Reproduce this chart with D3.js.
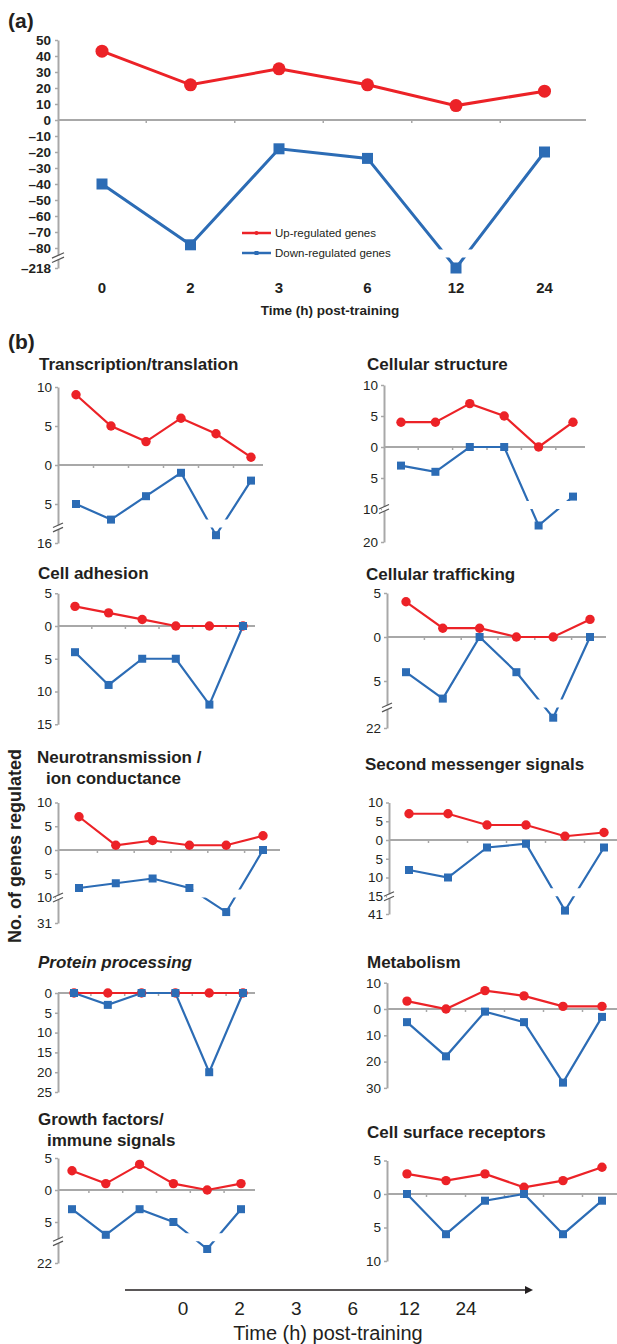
<!DOCTYPE html>
<html>
<head>
<meta charset="utf-8">
<script src="https://cdn.jsdelivr.net/npm/d3@7"></script>
<style>
  body { margin: 0; background: #fff; }
  svg { display: block; }
  text { font-family: "Liberation Sans", Arial, sans-serif; fill: #231f20; }
</style>
</head>
<body>
<svg id="chart" width="617" height="1344"></svg>
<script>
// time points (h) post-training
const times = ['0', '2', '3', '6', '12', '24'];

// (a) all regulated genes
const totalUp = [43, 22, 32, 22, 9, 18];
const totalDown = [-40, -78, -18, -24, -218, -20];
const totalTicks = [50, 40, 30, 20, 10, 0, -10, -20, -30, -40, -50, -60, -70, -80, -218];
const totalBreak = -86;
const legendLabels = ['Up-regulated genes', 'Down-regulated genes'];

// (b) per functional category (down counts are plotted below zero)
const categoryTitles = [
  ['Transcription/translation'], ['Cellular structure'],
  ['Cell adhesion'], ['Cellular trafficking'],
  ['Neurotransmission /', 'ion conductance'], ['Second messenger signals'],
  ['Protein processing'], ['Metabolism'],
  ['Growth factors/', 'immune signals'], ['Cell surface receptors']
];
const upCounts = [
  [9, 5, 3, 6, 4, 1], [4, 4, 7, 5, 0, 4],
  [3, 2, 1, 0, 0, 0], [4, 1, 1, 0, 0, 2],
  [7, 1, 2, 1, 1, 3], [7, 7, 4, 4, 1, 2],
  [0, 0, 0, 0, 0, 0], [3, 0, 7, 5, 1, 1],
  [3, 1, 4, 1, 0, 1], [3, 2, 3, 1, 2, 4]
];
const downCounts = [
  [5, 7, 4, 1, 12, 2], [3, 4, 0, 0, 15, 8],
  [4, 9, 5, 5, 12, 0], [4, 7, 0, 4, 15, 0],
  [8, 7, 6, 8, 22, 0], [8, 10, 2, 1, 36, 2],
  [0, 3, 0, 0, 20, 0], [5, 18, 1, 5, 28, 3],
  [3, 7, 3, 5, 13, 3], [0, 6, 1, 0, 6, 1]
];
const tickValues = [
  [10, 5, 0, -5, -16], [10, 5, 0, -5, -10, -20],
  [5, 0, -5, -10, -15], [5, 0, -5, -22],
  [10, 5, 0, -5, -10, -31], [10, 5, 0, -5, -10, -15, -41],
  [0, -5, -10, -15, -20, -25], [10, 0, -10, -20, -30],
  [5, 0, -5, -22], [5, 0, -5, -10]
];
const axisBreaks = [-8, -10, null, -8, -10, -15, null, null, -8, null];

// where each small chart sits on the page
const panelLayout = [
  { axisX: 58, first: 76, step: 35, xEnd: 263, y0: 465, ppu: 7.8, yBottom: 543, tx: 39, ty: 364 },
  { axisX: 384, first: 401, step: 34.4, xEnd: 585, y0: 447, ppu: 6.2, yBottom: 542, tx: 367, ty: 364 },
  { axisX: 58, first: 75, step: 33.6, xEnd: 255, y0: 626, ppu: 6.55, tx: 38, ty: 573 },
  { axisX: 387, first: 406, step: 36.8, xEnd: 606, y0: 637, ppu: 8.8, yBottom: 728, tx: 366, ty: 574 },
  { axisX: 58, first: 79, step: 36.8, xEnd: 280, y0: 850, ppu: 4.75, yBottom: 923, tx: 37, ty: 757 },
  { axisX: 389, first: 409, step: 39, xEnd: 617, y0: 840, ppu: 3.75, yBottom: 914, tx: 365, ty: 764 },
  { axisX: 58, first: 74, step: 33.8, xEnd: 255, y0: 993, ppu: 3.96, tx: 38, ty: 962, italic: true },
  { axisX: 387, first: 407, step: 39, xEnd: 617, y0: 1009, ppu: 2.63, tx: 367, ty: 962 },
  { axisX: 58, first: 72, step: 33.8, xEnd: 255, y0: 1190, ppu: 6.4, yBottom: 1263, tx: 38, ty: 1119 },
  { axisX: 387, first: 407, step: 39, xEnd: 617, y0: 1194, ppu: 6.7, tx: 367, ty: 1132 }
];

const RED = '#ec2227', BLUE = '#2c6cb5', GREY = '#a8a8a8', INK = '#231f20';
const svg = d3.select('#chart');
const defs = svg.append('defs');

const bigStyle = { tick: 3, pad: 4, font: 13.5, weight: 'bold', axisW: 2, lineW: 3, r: 6.5, sq: 11, gap: 8, brk: 6,
  fmt: v => v < 0 ? '\u2013' + (-v) : String(v) };
const smallStyle = { tick: 3, pad: 3, font: 13.5, weight: 'normal', axisW: 2, lineW: 2.2, r: 4.7, sq: 8, gap: 8, brk: 5,
  fmt: v => String(Math.abs(v)) };

function drawPanel(id, up, down, ticks, brk, L, st) {
  const g = svg.append('g');
  const top = ticks[0], bottom = ticks[ticks.length - 1];
  const y = brk == null
    ? d3.scaleLinear().domain([top, bottom]).range([L.y0 - top * L.ppu, L.y0 - bottom * L.ppu])
    : d3.scaleLinear().domain([top, brk, bottom]).range([L.y0 - top * L.ppu, L.y0 - brk * L.ppu, L.yBottom]);
  const x = d3.scalePoint().domain(times).range([L.first, L.first + (times.length - 1) * L.step]);

  // y axis
  const ax = g.append('g').attr('transform', `translate(${L.axisX},0)`)
    .call(d3.axisLeft(y).tickValues(ticks).tickSize(st.tick).tickSizeOuter(0).tickPadding(st.pad).tickFormat(st.fmt));
  ax.select('.domain').attr('stroke', GREY).attr('stroke-width', st.axisW);
  ax.selectAll('.tick line').attr('stroke', GREY).attr('stroke-width', 1.5);
  ax.selectAll('.tick text').style('font-size', st.font + 'px').style('font-weight', st.weight);

  // zero line with ticks between time points
  const y0 = y(0);
  g.append('line').attr('x1', L.axisX).attr('x2', L.xEnd).attr('y1', y0).attr('y2', y0)
    .attr('stroke', GREY).attr('stroke-width', st.axisW);
  d3.pairs(times).forEach(([a, b]) => {
    const xm = (x(a) + x(b)) / 2;
    g.append('line').attr('x1', xm).attr('x2', xm).attr('y1', y0).attr('y2', y0 + st.tick)
      .attr('stroke', GREY).attr('stroke-width', 1.5);
  });

  const line = d3.line().x((d, i) => x(times[i])).y(d => y(d));
  g.append('path').datum(up).attr('d', line).attr('fill', 'none')
    .attr('stroke', RED).attr('stroke-width', st.lineW);
  const blueLine = g.append('path').datum(down).attr('d', line).attr('fill', 'none')
    .attr('stroke', BLUE).attr('stroke-width', st.lineW);

  if (brk != null) {
    const yb = y(brk);
    const cp = defs.append('clipPath').attr('id', 'cut' + id);
    cp.append('rect').attr('x', 0).attr('y', 0).attr('width', 617).attr('height', yb - st.gap);
    cp.append('rect').attr('x', 0).attr('y', yb).attr('width', 617).attr('height', 1344 - yb);
    blueLine.attr('clip-path', `url(#cut${id})`);
    // axis break marks
    const s = st.brk;
    g.append('rect').attr('x', L.axisX - 2).attr('y', yb - 2).attr('width', 4).attr('height', 4).attr('fill', '#fff');
    [-2.2, 2.2].forEach(o => g.append('line')
      .attr('x1', L.axisX - s).attr('y1', yb + o + s * 0.45)
      .attr('x2', L.axisX + s).attr('y2', yb + o - s * 0.45)
      .attr('stroke', '#555').attr('stroke-width', 1.2));
  }

  g.selectAll('circle.up').data(up).join('circle').attr('class', 'up')
    .attr('cx', (d, i) => x(times[i])).attr('cy', d => y(d)).attr('r', st.r).attr('fill', RED);
  g.selectAll('rect.dn').data(down).join('rect').attr('class', 'dn')
    .attr('x', (d, i) => x(times[i]) - st.sq / 2).attr('y', d => y(d) - st.sq / 2)
    .attr('width', st.sq).attr('height', st.sq).attr('fill', BLUE);
  return x;
}

// ---- (a) ----
svg.append('text').attr('x', 8).attr('y', 21).attr('dy', '0.35em')
  .style('font-size', '21px').style('font-weight', 'bold').text('(a)');
const xa = drawPanel('a', totalUp, totalDown, totalTicks, totalBreak,
  { axisX: 58, first: 102, step: 88.5, xEnd: 586, y0: 120, ppu: 1.6, yBottom: 268 }, bigStyle);
svg.selectAll('text.xa').data(times).join('text').attr('class', 'xa')
  .attr('x', d => xa(d)).attr('y', 288).attr('dy', '0.35em').attr('text-anchor', 'middle')
  .style('font-size', '15px').style('font-weight', 'bold').text(d => d);
svg.append('text').attr('x', 330).attr('y', 310).attr('dy', '0.35em').attr('text-anchor', 'middle')
  .style('font-size', '13.5px').style('font-weight', 'bold').text('Time (h) post-training');

// legend
[RED, BLUE].forEach((c, i) => {
  const ly = 233 + i * 20;
  svg.append('line').attr('x1', 242).attr('x2', 271).attr('y1', ly).attr('y2', ly)
    .attr('stroke', c).attr('stroke-width', 2.5);
  if (i === 0) svg.append('circle').attr('cx', 256.5).attr('cy', ly).attr('r', 2).attr('fill', c);
  else svg.append('rect').attr('x', 254.5).attr('y', ly - 2).attr('width', 4).attr('height', 4).attr('fill', c);
  svg.append('text').attr('x', 275).attr('y', ly).attr('dy', '0.35em')
    .style('font-size', '11.5px').text(legendLabels[i]);
});

// ---- (b) ----
svg.append('text').attr('x', 8).attr('y', 342).attr('dy', '0.35em')
  .style('font-size', '21px').style('font-weight', 'bold').text('(b)');

categoryTitles.forEach((lines, k) => {
  const L = panelLayout[k];
  drawPanel(k, upCounts[k], downCounts[k].map(v => -v), tickValues[k], axisBreaks[k], L, smallStyle);
  lines.forEach((t, j) => {
    svg.append('text').attr('x', L.tx + (j > 0 ? 9 : 0)).attr('y', L.ty + j * 21).attr('dy', '0.35em')
      .style('font-size', '17px').style('font-weight', 'bold')
      .style('font-style', L.italic ? 'italic' : 'normal').text(t);
  });
});

svg.append('text').attr('transform', 'translate(15,846) rotate(-90)')
  .attr('text-anchor', 'middle').attr('dy', '0.35em')
  .style('font-size', '18px').style('font-weight', 'bold').text('No. of genes regulated');

// shared time arrow at the bottom
defs.append('marker').attr('id', 'arrow').attr('viewBox', '0 0 10 10').attr('refX', 0).attr('refY', 5)
  .attr('markerWidth', 8).attr('markerHeight', 8).attr('markerUnits', 'userSpaceOnUse')
  .attr('orient', 'auto').append('path').attr('d', 'M0,0L10,5L0,10Z').attr('fill', INK);
svg.append('line').attr('x1', 125).attr('x2', 525).attr('y1', 1290).attr('y2', 1290)
  .attr('stroke', INK).attr('stroke-width', 1.6).attr('marker-end', 'url(#arrow)');
const xb = d3.scalePoint().domain(times).range([183, 466]);
svg.selectAll('text.xb').data(times).join('text').attr('class', 'xb')
  .attr('x', d => xb(d)).attr('y', 1308).attr('dy', '0.35em').attr('text-anchor', 'middle')
  .style('font-size', '19px').text(d => d);
svg.append('text').attr('x', 328).attr('y', 1333).attr('dy', '0.35em').attr('text-anchor', 'middle')
  .style('font-size', '20px').text('Time (h) post-training');
</script>
</body>
</html>
